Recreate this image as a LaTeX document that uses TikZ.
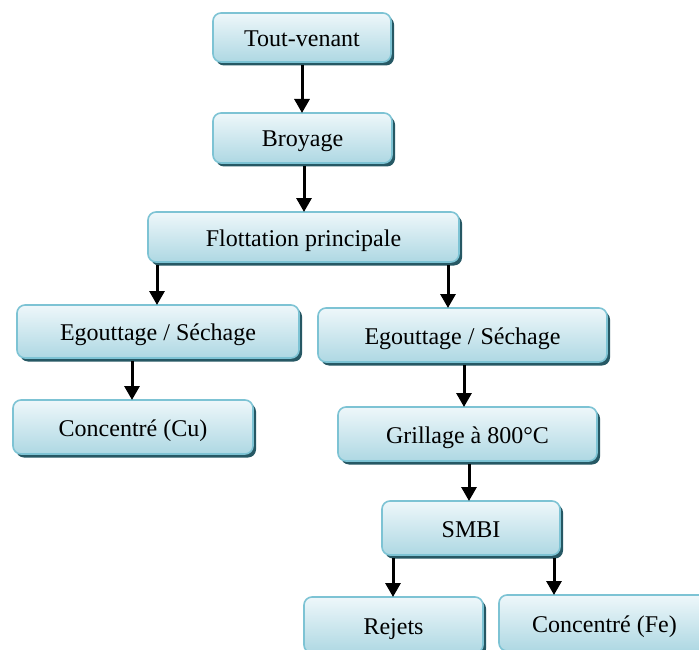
\documentclass[tikz,border=0pt]{standalone}
\usepackage{fontspec}
\setmainfont{Liberation Serif}
\usetikzlibrary{arrows.meta,shadows}
\definecolor{bord}{RGB}{125,195,212}
\definecolor{shadc}{RGB}{38,88,100}
\definecolor{topc}{RGB}{238,247,250}
\definecolor{botc}{RGB}{174,216,227}
\tikzset{
  box/.style={draw=bord, line width=1.6pt, rounded corners=8pt,
    top color=topc, bottom color=botc, inner sep=0pt, outer sep=0pt,
    font=\fontsize{24}{28}\selectfont, text=black, text height=18pt, text depth=0pt,
    drop shadow={shadow xshift=3pt, shadow yshift=-3.5pt, fill=shadc, opacity=1, draw=none}},
  arr/.style={line width=3pt, -{Triangle[width=15pt,length=14pt]}, black}
}
\begin{document}
\begin{tikzpicture}[x=1pt,y=-1pt]
\useasboundingbox (0,0) rectangle (699,650);
\clip (0,0) rectangle (699,650);
\node[box, minimum width=178pt, minimum height=49pt] (tv) at (302,37.5) {Tout-venant};
\node[box, minimum width=179pt, minimum height=50pt] (br) at (302.5,138) {Broyage};
\node[box, minimum width=311pt, minimum height=50pt] (fl) at (303.5,237) {Flottation principale};
\node[box, minimum width=282pt, minimum height=53pt] (egl) at (158,331.5) {Egouttage / Séchage};
\node[box, minimum width=240pt, minimum height=54pt] (cu) at (133,427) {Concentré (Cu)};
\node[box, minimum width=289pt, minimum height=54pt] (egr) at (462.5,335) {Egouttage / Séchage};
\node[box, minimum width=259pt, minimum height=54pt] (gr) at (467.5,434) {Grillage à 800°C};
\node[box, minimum width=178pt, minimum height=54pt] (smbi) at (471,528) {SMBI};
\node[box, minimum width=179pt, minimum height=56pt] (rej) at (393.5,625) {Rejets};
\node[box, minimum width=211pt, minimum height=56pt] (fe) at (604.5,623) {Concentré (Fe)};
\draw[arr] (302,0 |- tv.south) ++(0,3) -- (302,0 |- br.north);
\draw[arr] (304,0 |- br.south) ++(0,3) -- (304,0 |- fl.north);
\draw[arr] (157,0 |- fl.south) ++(0,3) -- (157,0 |- egl.north);
\draw[arr] (448,0 |- fl.south) ++(0,3) -- (448,0 |- egr.north);
\draw[arr] (132,0 |- egl.south) ++(0,3) -- (132,0 |- cu.north);
\draw[arr] (464,0 |- egr.south) ++(0,3) -- (464,0 |- gr.north);
\draw[arr] (469,0 |- gr.south) ++(0,3) -- (469,0 |- smbi.north);
\draw[arr] (393,0 |- smbi.south) ++(0,3) -- (393,0 |- rej.north);
\draw[arr] (554,0 |- smbi.south) ++(0,3) -- (554,0 |- fe.north);
\end{tikzpicture}
\end{document}
